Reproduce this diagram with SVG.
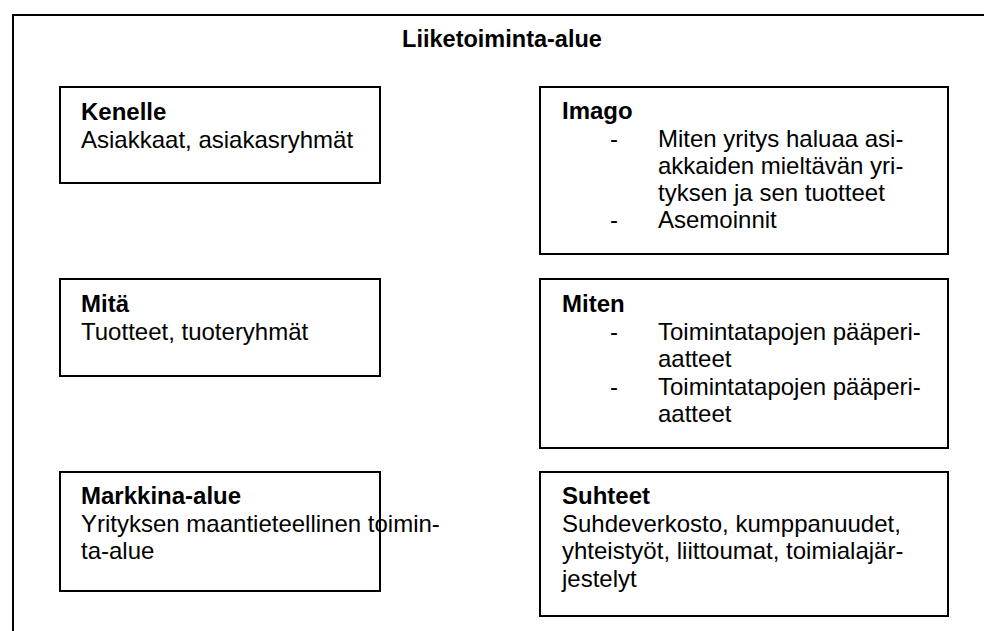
<svg xmlns="http://www.w3.org/2000/svg" width="984" height="631" viewBox="0 0 984 631">
  <style>
    .frame { fill: #ffffff; stroke: #000000; stroke-width: 2; }
    .box { fill: #ffffff; stroke: #000000; stroke-width: 2; }
    text { font-family: "Liberation Sans", Arial, sans-serif; font-size: 24px; fill: #000000; }
    .head { font-weight: bold; }
    .title { font-size: 23.5px; }
  </style>

  <rect width="984" height="631" fill="#ffffff"/>

  <!-- outer frame: continues past the right and bottom edges -->
  <g id="area">
    <rect class="frame" x="13" y="15" width="1000" height="640"/>
    <text class="head title" x="502" y="47" text-anchor="middle">Liiketoiminta-alue</text>
  </g>

  <g id="kenelle">
    <rect class="box" x="60" y="87" width="320" height="96"/>
    <text class="head" x="81" y="120">Kenelle</text>
    <text x="81" y="148">Asiakkaat, asiakasryhmät</text>
  </g>

  <g id="imago">
    <rect class="box" x="540" y="87" width="408" height="167"/>
    <text class="head" x="562" y="119">Imago</text>
    <text x="610" y="147">-</text>
    <text x="658" y="147">Miten yritys haluaa asi-</text>
    <text x="658" y="174">akkaiden mieltävän yri-</text>
    <text x="658" y="201">tyksen ja sen tuotteet</text>
    <text x="610" y="228">-</text>
    <text x="658" y="228">Asemoinnit</text>
  </g>

  <g id="mita">
    <rect class="box" x="60" y="279" width="320" height="97"/>
    <text class="head" x="81" y="312">Mitä</text>
    <text x="81" y="340">Tuotteet, tuoteryhmät</text>
  </g>

  <g id="miten">
    <rect class="box" x="540" y="279" width="408" height="169"/>
    <text class="head" x="562" y="312">Miten</text>
    <text x="610" y="340">-</text>
    <text x="658" y="340">Toimintatapojen pääperi-</text>
    <text x="658" y="367">aatteet</text>
    <text x="610" y="395">-</text>
    <text x="658" y="395">Toimintatapojen pääperi-</text>
    <text x="658" y="422">aatteet</text>
  </g>

  <g id="markkina-alue">
    <rect class="box" x="60" y="472" width="320" height="119"/>
    <text class="head" x="81" y="504">Markkina-alue</text>
    <text x="81" y="532">Yrityksen maantieteellinen toimin-</text>
    <text x="81" y="559">ta-alue</text>
  </g>

  <g id="suhteet">
    <rect class="box" x="540" y="472" width="408" height="144"/>
    <text class="head" x="562" y="504">Suhteet</text>
    <text x="562" y="532">Suhdeverkosto, kumppanuudet,</text>
    <text x="562" y="559">yhteistyöt, liittoumat, toimialajär-</text>
    <text x="562" y="587">jestelyt</text>
  </g>
</svg>
